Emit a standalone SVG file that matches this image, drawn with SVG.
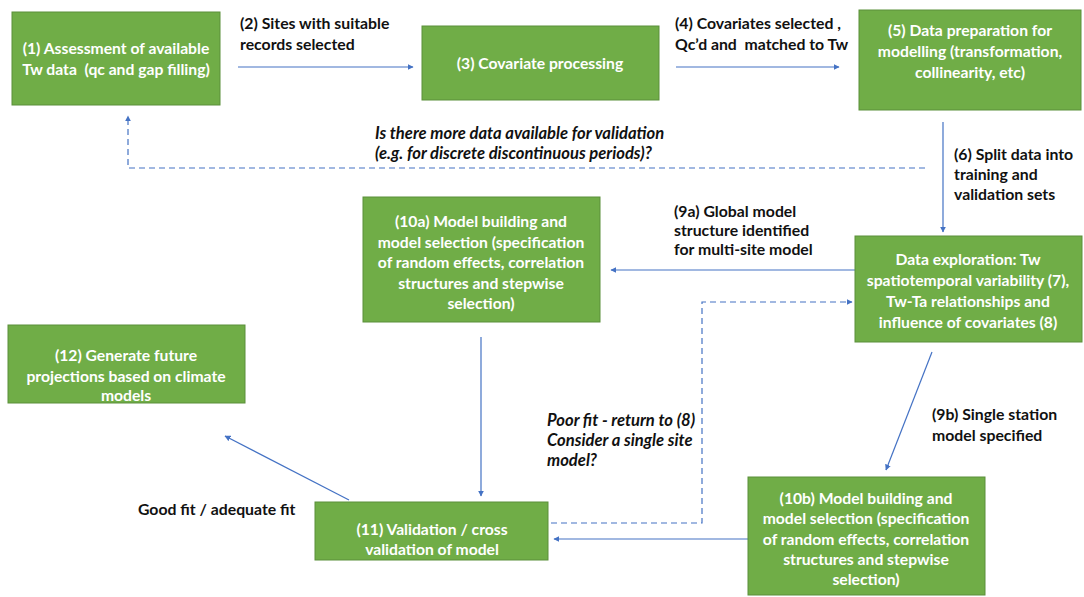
<svg xmlns="http://www.w3.org/2000/svg" width="1084" height="597" viewBox="0 0 1084 597">
<style>
.box{fill:#70AD47;stroke:#5B8F3A;stroke-width:1}
.bt{font-family:Lato,"Liberation Sans",sans-serif;font-size:15.7px;font-weight:bold;fill:#ffffff;text-anchor:middle}
.lb{font-family:Lato,"Liberation Sans",sans-serif;font-size:15.8px;font-weight:bold;fill:#111111}
.it{font-style:italic;font-size:16.6px}
.ln{fill:none;stroke:#4472C4;stroke-width:1.2}
.dash{stroke-dasharray:6 4}
</style>
<defs>
<marker id="ah" viewBox="0 0 10 10" refX="9" refY="5" markerWidth="6" markerHeight="6" orient="auto" markerUnits="userSpaceOnUse">
<path d="M0,0 L10,5 L0,10 z" fill="#4472C4"/>
</marker>
</defs>
<rect width="1084" height="597" fill="#ffffff"/>
<g id="connectors">
<line class="ln" x1="238" y1="67" x2="413" y2="67" marker-end="url(#ah)"/>
<line class="ln" x1="676" y1="67" x2="839" y2="67" marker-end="url(#ah)"/>
<polyline class="ln dash" points="925,168 128,168 128,116" marker-end="url(#ah)"/>
<line class="ln" x1="943" y1="122" x2="943" y2="232" marker-end="url(#ah)"/>
<line class="ln" x1="855" y1="270" x2="611" y2="270" marker-end="url(#ah)"/>
<polyline class="ln dash" points="551,523 702,523 702,302 852,302" marker-end="url(#ah)"/>
<line class="ln" x1="481" y1="337" x2="481" y2="496" marker-end="url(#ah)"/>
<line class="ln" x1="349" y1="500" x2="225" y2="436" marker-end="url(#ah)"/>
<line class="ln" x1="932" y1="352" x2="886" y2="470" marker-end="url(#ah)"/>
<line class="ln" x1="748" y1="539" x2="554" y2="539" marker-end="url(#ah)"/>
</g>
<g id="labels">
<text class="lb" x="240" y="29">(2) Sites with suitable</text>
<text class="lb" x="240" y="50">records selected</text>
<text class="lb" x="675" y="29">(4) Covariates selected ,</text>
<text class="lb" x="675" y="50">Qc’d and&#160; matched to Tw</text>
<text class="lb it" x="375" y="139">Is there more data available for validation</text>
<text class="lb it" x="375" y="159">(e.g. for discrete discontinuous periods)?</text>
<text class="lb" x="954" y="160">(6) Split data into</text>
<text class="lb" x="954" y="180">training and</text>
<text class="lb" x="954" y="200">validation sets</text>
<text class="lb" x="674" y="217">(9a) Global model</text>
<text class="lb" x="674" y="236">structure identified</text>
<text class="lb" x="674" y="255">for multi-site model</text>
<text class="lb it" x="547" y="426">Poor fit - return to (8)</text>
<text class="lb it" x="547" y="446">Consider a single site</text>
<text class="lb it" x="547" y="466">model?</text>
<text class="lb" x="932" y="420">(9b) Single station</text>
<text class="lb" x="932" y="441">model specified</text>
<text class="lb" x="138" y="515">Good fit / adequate fit</text>
</g>
<g id="n1">
<rect class="box" x="12" y="12" width="208" height="93"/>
<text class="bt" x="116" y="54">(1) Assessment of available</text>
<text class="bt" x="116" y="75">Tw data&#160; (qc and gap filling)</text>
</g>
<g id="n3">
<rect class="box" x="422" y="26" width="237" height="74"/>
<text class="bt" x="540" y="69">(3) Covariate processing</text>
</g>
<g id="n5">
<rect class="box" x="859" y="10" width="222" height="100"/>
<text class="bt" x="970" y="36">(5) Data preparation for</text>
<text class="bt" x="970" y="57">modelling (transformation,</text>
<text class="bt" x="970" y="78">collinearity, etc)</text>
</g>
<g id="n7">
<rect class="box" x="855" y="236" width="227" height="106"/>
<text class="bt" x="968" y="265">Data exploration: Tw</text>
<text class="bt" x="968" y="286">spatiotemporal variability (7),</text>
<text class="bt" x="968" y="307">Tw-Ta relationships and</text>
<text class="bt" x="968" y="328">influence of covariates (8)</text>
</g>
<g id="n10a">
<rect class="box" x="363" y="197" width="237" height="125"/>
<text class="bt" x="481" y="227">(10a) Model building and</text>
<text class="bt" x="481" y="248">model selection (specification</text>
<text class="bt" x="481" y="268">of random effects, correlation</text>
<text class="bt" x="481" y="289">structures and stepwise</text>
<text class="bt" x="481" y="309">selection)</text>
</g>
<g id="n12">
<rect class="box" x="8" y="325" width="237" height="78"/>
<text class="bt" x="126" y="361">(12) Generate future</text>
<text class="bt" x="126" y="382">projections based on climate</text>
<text class="bt" x="126" y="401">models</text>
</g>
<g id="n11">
<rect class="box" x="315" y="502" width="233" height="58"/>
<text class="bt" x="432" y="535">(11) Validation / cross</text>
<text class="bt" x="432" y="555">validation of model</text>
</g>
<g id="n10b">
<rect class="box" x="748" y="477" width="237" height="118"/>
<text class="bt" x="866" y="504">(10b) Model building and</text>
<text class="bt" x="866" y="524">model selection (specification</text>
<text class="bt" x="866" y="545">of random effects, correlation</text>
<text class="bt" x="866" y="565">structures and stepwise</text>
<text class="bt" x="866" y="585">selection)</text>
</g>
</svg>
